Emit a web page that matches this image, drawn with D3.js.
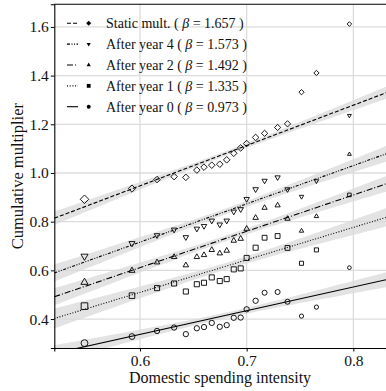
<!DOCTYPE html>
<html>
<head>
<meta charset="utf-8">
<script src="https://cdn.jsdelivr.net/npm/d3@7"></script>
<style>
  body { margin: 0; background: #fff; }
  text { font-family: "Liberation Serif", "DejaVu Serif", serif; fill: #111; }
</style>
</head>
<body>
<div id="wrapper"></div>
<script>
// data
const xValues = [0.548, 0.5925, 0.616, 0.632, 0.643, 0.6533, 0.66, 0.6673, 0.6748, 0.6813,
  0.6879, 0.6944, 0.700, 0.7084, 0.7168, 0.729, 0.7383, 0.7514, 0.7654, 0.7963];
const staticMult = [0.892, 0.936, 0.973, 0.985, 0.982, 1.012, 1.024, 1.032, 1.036, 1.054,
  1.081, 1.103, 1.121, 1.146, 1.163, 1.187, 1.202, 1.332, 1.411, 1.612];
const afterYear4 = [0.658, 0.711, 0.744, 0.767, 0.736, 0.771, 0.782, 0.804, 0.788, 0.804,
  0.841, 0.851, 0.893, 0.933, 0.968, 0.982, 0.933, 0.903, 0.967, 1.236];
const afterYear2 = [0.551, 0.599, 0.633, 0.655, 0.621, 0.655, 0.663, 0.684, 0.670, 0.681,
  0.722, 0.730, 0.771, 0.816, 0.857, 0.867, 0.812, 0.762, 0.822, 1.077];
const afterYear1 = [0.453, 0.496, 0.527, 0.546, 0.513, 0.543, 0.549, 0.571, 0.556, 0.564,
  0.604, 0.608, 0.651, 0.693, 0.734, 0.741, 0.692, 0.629, 0.684, 0.910];
const afterYear0 = [0.301, 0.328, 0.351, 0.365, 0.338, 0.362, 0.367, 0.384, 0.368, 0.375,
  0.405, 0.406, 0.440, 0.475, 0.508, 0.511, 0.471, 0.412, 0.449, 0.611];
const markerScale = [1.3, 1.1, 1, 1, 1, 1, 1, 1, 1, 1, 1, 1, 1, 1, 0.95, 0.95, 0.95, 0.8, 0.8, 0.7];

const seriesNames = ["Static mult.", "After year 4", "After year 2", "After year 1", "After year 0"];
const betas = [1.657, 1.573, 1.492, 1.335, 0.973];
const intercepts = [-0.047, -0.228, -0.284, -0.2915, -0.247];
const bandScale = [0.041, 0.053, 0.053, 0.062, 0.051];
const markerTypes = ["diamond", "down", "up", "square", "circle"];
const dashes = ["4,2", "3,1.5,1,1.5,1,1.5", "6,2,1,2", "1,1.7", null];

const xTicks = [0.6, 0.7, 0.8];
const yTicks = [0.4, 0.6, 0.8, 1.0, 1.2, 1.4, 1.6];

const seriesValues = [staticMult, afterYear4, afterYear2, afterYear1, afterYear0];

const width = 386, height = 391;
const margin = { top: 4.3, right: 0, bottom: 43, left: 54.3 };
const boundedWidth = width - margin.left - margin.right;
const boundedHeight = height - margin.top - margin.bottom;

const svg = d3.select("#wrapper").append("svg")
  .attr("width", width).attr("height", height);

const bounds = svg.append("g")
  .attr("transform", `translate(${margin.left},${margin.top})`);

const xScale = d3.scaleLinear().domain([0.5197, 0.8306]).range([0, boundedWidth]);
const yScale = d3.scaleLinear().domain([0.281, 1.693]).range([boundedHeight, 0]);

bounds.append("clipPath").attr("id", "clip")
  .append("rect").attr("width", boundedWidth).attr("height", boundedHeight);

// grid
bounds.append("g").selectAll("line").data(yTicks).join("line")
  .attr("x1", 0).attr("x2", boundedWidth)
  .attr("y1", d => yScale(d)).attr("y2", d => yScale(d))
  .attr("stroke", "#dcdcdc").attr("stroke-width", 1.3);
bounds.append("g").selectAll("line").data(xTicks).join("line")
  .attr("y1", 0).attr("y2", boundedHeight)
  .attr("x1", d => xScale(d)).attr("x2", d => xScale(d))
  .attr("stroke", "#dcdcdc").attr("stroke-width", 1.3);

// confidence bands + fitted lines
const n = xValues.length;
const xMean = d3.mean(xValues);
const sxx = d3.sum(xValues, x => (x - xMean) ** 2);
const xs = d3.range(0, 61).map(i => xScale.domain()[0] + i * (xScale.domain()[1] - xScale.domain()[0]) / 60);

const plot = bounds.append("g").attr("clip-path", "url(#clip)");

seriesNames.forEach((name, i) => {
  const fit = x => intercepts[i] + betas[i] * x;
  const hw = x => bandScale[i] * Math.sqrt(1 / n + (x - xMean) ** 2 / sxx);
  plot.append("path").datum(xs)
    .attr("d", d3.area()
      .x(d => xScale(d))
      .y0(d => yScale(fit(d) - hw(d)))
      .y1(d => yScale(fit(d) + hw(d))))
    .attr("fill", "#d9d9d9").attr("opacity", 0.75);
});

seriesNames.forEach((name, i) => {
  const fit = x => intercepts[i] + betas[i] * x;
  plot.append("path").datum(xScale.domain())
    .attr("d", d3.line().x(d => xScale(d)).y(d => yScale(fit(d))))
    .attr("fill", "none").attr("stroke", "#000").attr("stroke-width", 1.1)
    .attr("stroke-dasharray", dashes[i]);
});

function markerPath(type, s) {
  const p = d3.path();
  if (type == "circle") {
    const r = s / 2;
    p.moveTo(r, 0); p.arc(0, 0, r, 0, 2 * Math.PI);
  } else if (type == "square") {
    const h = s * 0.48;
    p.rect(-h, -h, 2 * h, 2 * h);
  } else if (type == "diamond") {
    const h = s * 0.62;
    p.moveTo(0, -h); p.lineTo(h, 0); p.lineTo(0, h); p.lineTo(-h, 0); p.closePath();
  } else {
    const r = s * 0.6, sg = type == "up" ? 1 : -1;
    p.moveTo(0, -r * sg); p.lineTo(r * 0.866, r * 0.5 * sg); p.lineTo(-r * 0.866, r * 0.5 * sg); p.closePath();
  }
  return p.toString();
}

// scatter points
seriesValues.forEach((vals, i) => {
  plot.append("g").selectAll("path").data(vals).join("path")
    .attr("transform", (d, j) => `translate(${xScale(xValues[j])},${yScale(d)})`)
    .attr("d", (d, j) => markerPath(markerTypes[i], 5.3 * markerScale[j]))
    .attr("fill", "none").attr("stroke", "#000").attr("stroke-width", 0.9);
});

// spines
bounds.append("line").attr("x1", 0).attr("x2", boundedWidth).attr("y1", 0).attr("y2", 0)
  .attr("stroke", "#000").attr("stroke-width", 1.1);

const xAxis = bounds.append("g")
  .attr("transform", `translate(0,${boundedHeight})`)
  .call(d3.axisBottom(xScale).tickValues(xTicks).tickFormat(d3.format(".1f")).tickSize(3.5).tickPadding(3));
const yAxis = bounds.append("g")
  .call(d3.axisLeft(yScale).tickValues(yTicks).tickFormat(d3.format(".1f")).tickSize(3.5).tickPadding(2));
[xAxis, yAxis].forEach(ax => {
  ax.select(".domain").attr("stroke", "#000").attr("stroke-width", 1.1);
  ax.selectAll(".tick line").attr("stroke", "#000");
  ax.selectAll("text").style("font-family", "Liberation Serif").style("font-size", "15.5px").attr("fill", "#333");
});

svg.append("text")
  .attr("x", margin.left + xScale(0.675)).attr("y", 383)
  .attr("text-anchor", "middle").style("font-size", "16px").attr("fill", "#333")
  .text("Domestic spending intensity");
svg.append("text")
  .attr("transform", `translate(23,${margin.top + boundedHeight / 2}) rotate(-90)`)
  .attr("text-anchor", "middle").style("font-size", "16.5px").attr("fill", "#333")
  .text("Cumulative multiplier");

// legend
const legend = svg.append("g").attr("transform", "translate(67,23.3)");
seriesNames.forEach((name, i) => {
  const row = legend.append("g").attr("transform", `translate(0,${i * 20.85})`);
  row.append("line").attr("x1", 0).attr("x2", 11).attr("y1", 0).attr("y2", 0)
    .attr("stroke", "#000").attr("stroke-width", 1.1).attr("stroke-dasharray", dashes[i]);
  row.append("path").attr("transform", "translate(21.7,0)")
    .attr("d", markerPath(markerTypes[i], 4)).attr("fill", "#000");
  const t = row.append("text").attr("x", 39).attr("y", 4.8)
    .style("font-size", "14px").attr("fill", "#333");
  t.append("tspan").text(`${name} ( `);
  t.append("tspan").style("font-style", "italic").text("β");
  t.append("tspan").text(` = ${betas[i].toFixed(3)} )`);
});
</script>
</body>
</html>
